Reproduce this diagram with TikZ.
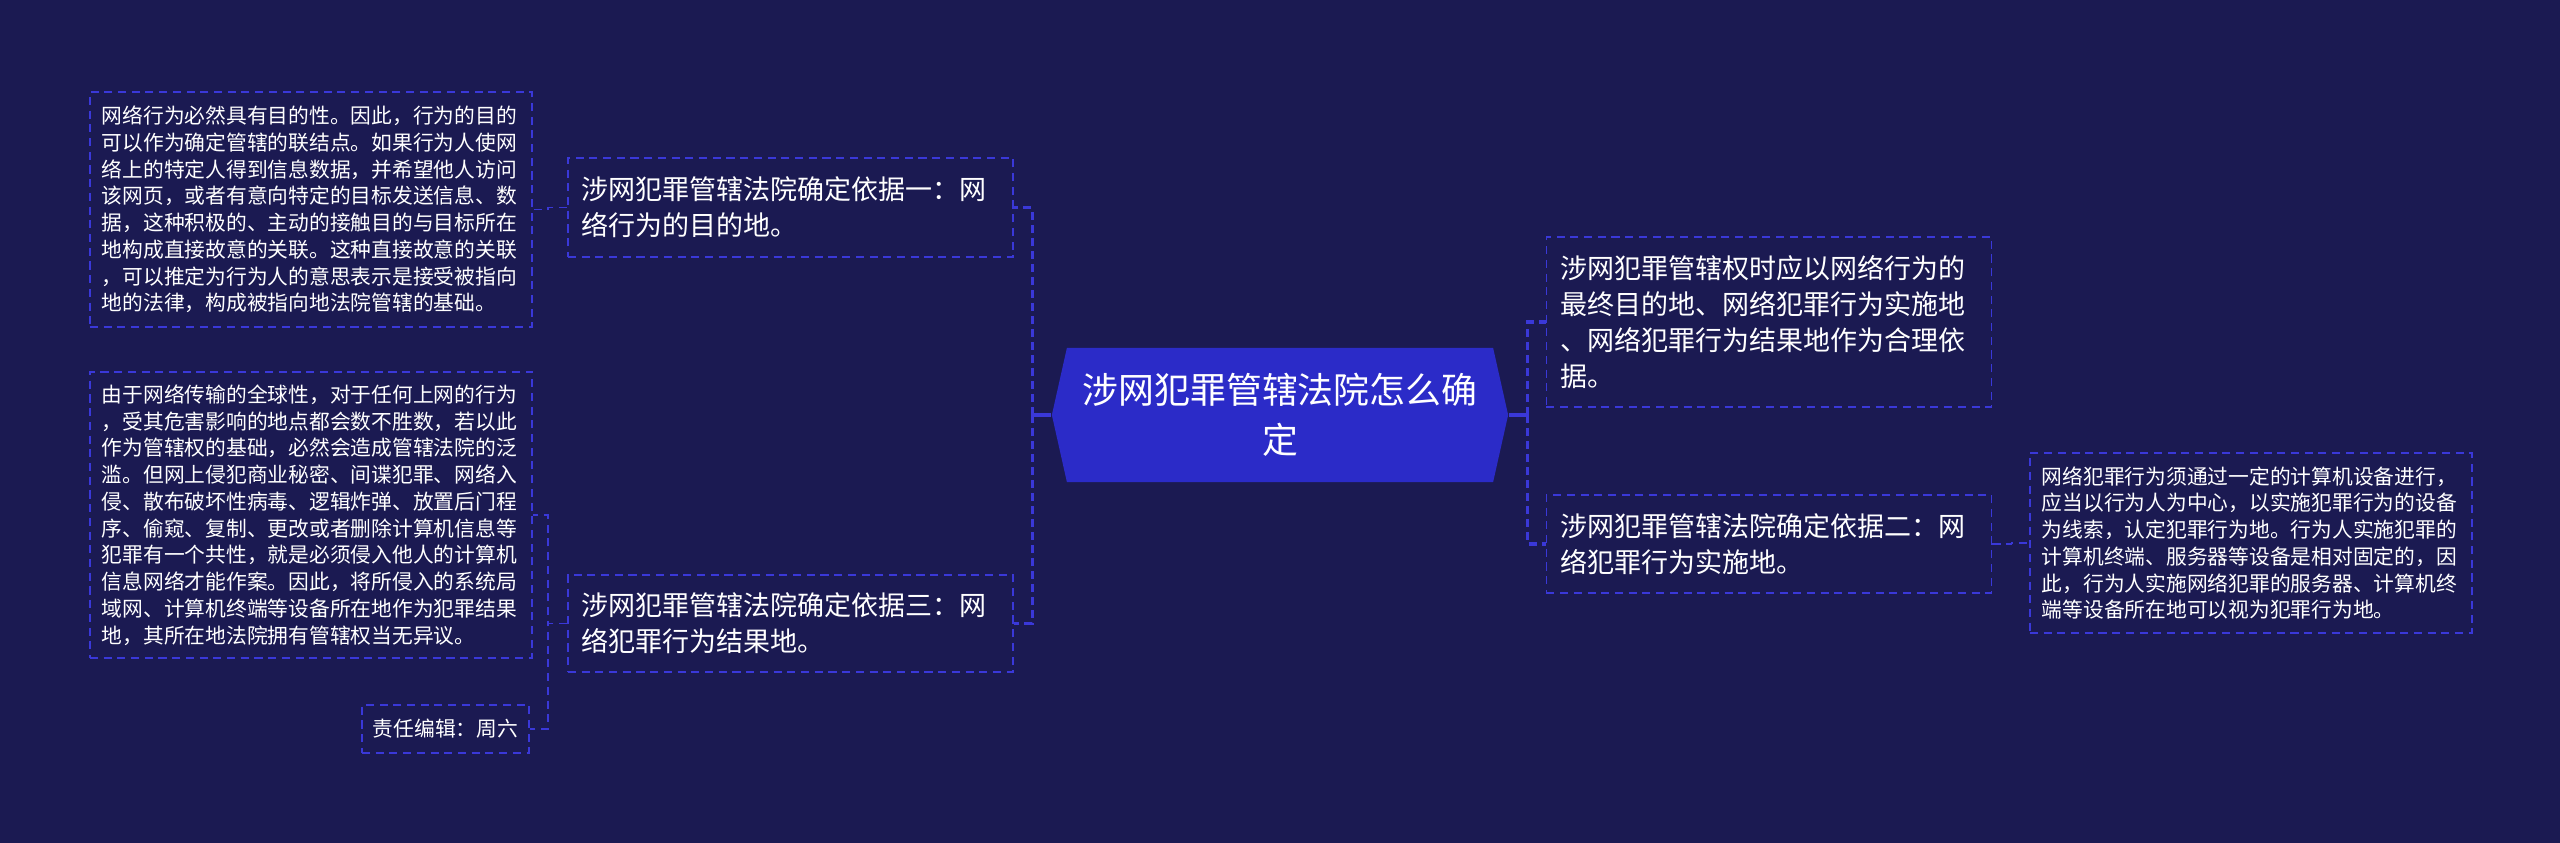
\documentclass[tikz,border=0pt]{standalone}
\usepackage{fontspec}
\setmainfont{Noto Sans CJK SC}
\usepackage{xcolor}
\usepackage{tikz}
\usetikzlibrary{calc}
\definecolor{MapBg}{HTML}{1B1A52}
\definecolor{MapRoot}{HTML}{2B2BC8}
\definecolor{MapLine}{HTML}{3A38D8}

\begin{document}
\begin{tikzpicture}[x=0.01cm, y=-0.01cm,
  every node/.style={text=white, inner sep=0pt},
  hexroot/.style={minimum width=4.56cm, minimum height=1.34cm, text width=4.2cm, align=center,
    font=\fontsize{10.2pt}{14.2pt}\selectfont,
    path picture={\fill[MapRoot] (path picture bounding box.west)
      -- ([xshift=0.15cm]path picture bounding box.north west)
      -- ([xshift=-0.15cm]path picture bounding box.north east)
      -- (path picture bounding box.east)
      -- ([xshift=-0.15cm]path picture bounding box.south east)
      -- ([xshift=0.15cm]path picture bounding box.south west) -- cycle;}},
  topic/.style={draw=MapLine, line width=0.45pt, dash pattern=on 2.3pt off 1.6pt,
    align=left, text width=4.17cm, inner xsep=0.14cm, font=\fontsize{7.68pt}{10.24pt}\selectfont},
  leaf/.style={draw=MapLine, line width=0.45pt, dash pattern=on 2.3pt off 1.6pt,
    align=left, text width=4.18cm, inner xsep=0.12cm, font=\fontsize{5.9pt}{7.6pt}\selectfont},
  stub/.style={MapLine, line width=0.9pt},
  trunk/.style={MapLine, line width=0.9pt, dash pattern=on 2.3pt off 1.4pt},
  twig/.style={MapLine, line width=0.45pt, dash pattern=on 2.3pt off 1.6pt}]

  \fill[MapBg] (0,0) rectangle (2560,843);
  \useasboundingbox (0,0) rectangle (2560,843);

  % centre
  \node[hexroot] (root) at (1280,415) {涉网犯罪管辖法院怎么确\\定};

  % left branch
  \node[topic, minimum height=0.99cm] (m1) at (790.5,207.5)
    {涉网犯罪管辖法院确定依据一：网\\络行为的目的地。};
  \node[topic, minimum height=0.97cm] (m3) at (790.5,623.5)
    {涉网犯罪管辖法院确定依据三：网\\络犯罪行为结果地。};
  \node[leaf, minimum height=2.35cm] (d1) at (311,209.5)
    {网络行为必然具有目的性。因此，行为的目的\\
     可以作为确定管辖的联结点。如果行为人使网\\
     络上的特定人得到信息数据，并希望他人访问\\
     该网页，或者有意向特定的目标发送信息、数\\
     据，这种积极的、主动的接触目的与目标所在\\
     地构成直接故意的关联。这种直接故意的关联\\
     ，可以推定为行为人的意思表示是接受被指向\\
     地的法律，构成被指向地法院管辖的基础。};
  \node[leaf, minimum height=2.86cm] (d2) at (311,515)
    {由于网络传输的全球性，对于任何上网的行为\\
     ，受其危害影响的地点都会数不胜数，若以此\\
     作为管辖权的基础，必然会造成管辖法院的泛\\
     滥。但网上侵犯商业秘密、间谍犯罪、网络入\\
     侵、散布破坏性病毒、逻辑炸弹、放置后门程\\
     序、偷窥、复制、更改或者删除计算机信息等\\
     犯罪有一个共性，就是必须侵入他人的计算机\\
     信息网络才能作案。因此，将所侵入的系统局\\
     域网、计算机终端等设备所在地作为犯罪结果\\
     地，其所在地法院拥有管辖权当无异议。};
  \node[leaf, text width=1.45cm, inner xsep=0.11cm, minimum height=0.48cm] (ed) at (445.5,729)
    {责任编辑：周六};

  % right branch
  \node[topic, minimum height=1.70cm] (rA) at (1769,322)
    {涉网犯罪管辖权时应以网络行为的\\最终目的地、网络犯罪行为实施地\\、网络犯罪行为结果地作为合理依\\据。};
  \node[topic, minimum height=0.98cm] (rB) at (1769,544)
    {涉网犯罪管辖法院确定依据二：网\\络犯罪行为实施地。};
  \node[leaf, minimum height=1.80cm] (d3) at (2251,543)
    {网络犯罪行为须通过一定的计算机设备进行，\\
     应当以行为人为中心，以实施犯罪行为的设备\\
     为线索，认定犯罪行为地。行为人实施犯罪的\\
     计算机终端、服务器等设备是相对固定的，因\\
     此，行为人实施网络犯罪的服务器、计算机终\\
     端等设备所在地可以视为犯罪行为地。};

  % connectors
  \draw[stub] (root.west) -- ++(-19,0) coordinate (lspine);
  \draw[stub] (root.east) -- ++(19,0) coordinate (rspine);
  \draw[trunk] (lspine) |- (m1.east);
  \draw[trunk] (lspine) |- (m3.east);
  \draw[trunk] (rspine) |- (rA.west);
  \draw[trunk] (rspine) |- (rB.west);
  \draw[twig] (m1.west) -- ++(-19,0) |- (d1.east);
  \draw[twig] (m3.west) -- ++(-19,0) |- (d2.east);
  \draw[twig] (m3.west) -- ++(-19,0) |- (ed.east);
  \draw[twig] (rB.east) -- ++(19,0) |- (d3.west);
\end{tikzpicture}
\end{document}
